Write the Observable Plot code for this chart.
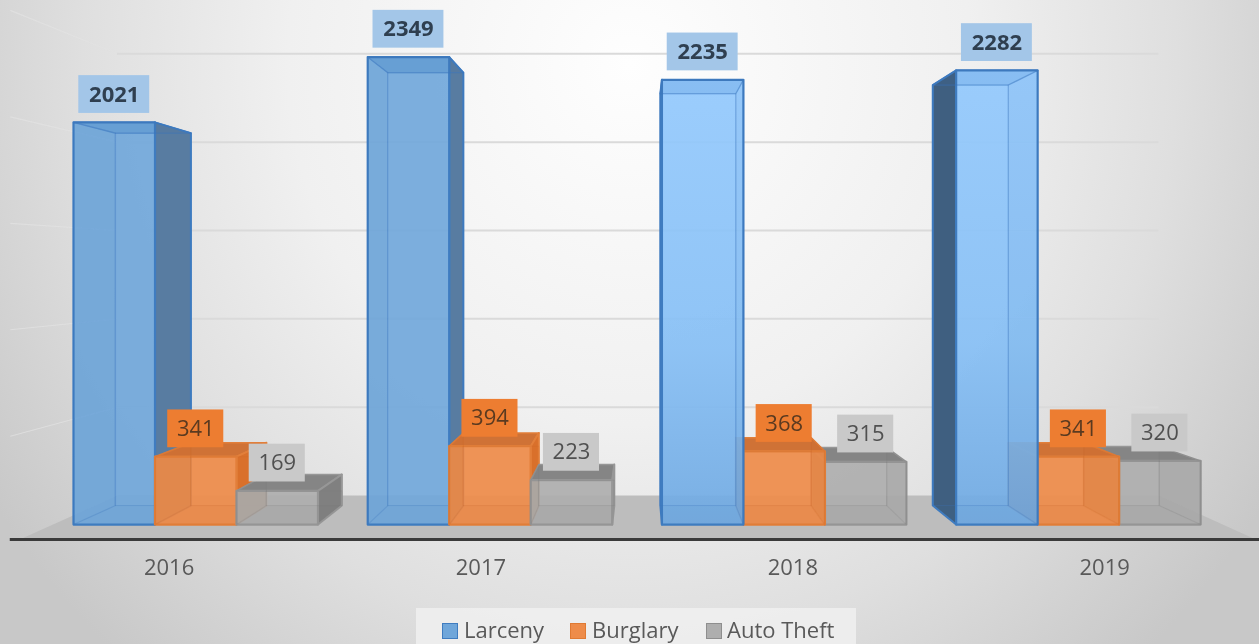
<!DOCTYPE html>
<html><head><meta charset="utf-8">
<script src="https://cdn.jsdelivr.net/npm/d3@7"></script>
<script src="https://cdn.jsdelivr.net/npm/@observablehq/plot@0.6"></script>
<style>
html,body{margin:0;padding:0;width:1259px;height:644px;overflow:hidden}
body{background:radial-gradient(ellipse 760px 800px at 50% 10%,#fefefe 0%,#f0f0f0 45%,#dfdfdf 72%,#c8c8c8 100%);font-family:"Open Sans",sans-serif}
#chart svg{display:block;filter:blur(.6px)}
#legend{position:relative;margin-left:416px;margin-top:2px;width:440px;height:36px;background:rgba(240,240,240,.85);color:#595959;font-size:22px;filter:blur(.4px)}
#legend span{position:absolute;white-space:nowrap;top:6px}
#legend i{position:absolute;top:15px;width:14px;height:14px;border:1.5px solid}
</style></head><body>
<div id="chart"></div><div id="legend"></div>
<script>
const years = ["2016","2017","2018","2019"];
const seriesNames = ["Larceny","Burglary","Auto Theft"];
const larceny = [2021,2349,2235,2282];
const burglary = [341,394,368,341];
const autoTheft = [169,223,315,320];
const gridValues = [500,1000,1500,2000,2500];
const seriesValues = [larceny,burglary,autoTheft];

// 3-D box geometry expressed in scale units: x in bar widths, y in chart values
const groupStep = 3.61, vanishX = 6.957;
const boxK = 0.926, boxLift = 95.5, wallK = 0.888, wallLift = 145.7;
const project = (x,k)=>vanishX+k*(x-vanishX);
const floorValue = -75, frontK = 1.054, tickK = 1.06;

const looks = [
 {front:"rgba(111,166,218,.9)",solid:"#6fa6da",top:"#5f96cf",over:"rgba(60,110,170,.1)",side:"#587ca1",inner:"rgba(60,110,170,.05)",line:"rgba(60,120,190,.28)",edge:"#3f7cc0",box:"#a3c6e8",text:"#2f3f50"},
 {front:"rgba(238,140,74,.93)",solid:"#ee8c4a",top:"#cf7236",over:"rgba(190,90,30,.08)",side:"#d9702b",inner:"rgba(200,95,30,.07)",line:"rgba(200,100,40,.18)",edge:"#e27f3a",box:"#ed7d31",text:"#5a3a20"},
 {front:"rgba(174,174,174,.92)",solid:"#aeaeae",top:"#858585",over:"rgba(110,110,110,.08)",side:"#808080",inner:"rgba(120,120,120,.07)",line:"rgba(120,120,120,.2)",edge:"#979797",box:"#c9c9c9",text:"#505050"}
];
const lightFront = "url(#lightBlue)";

const bars = years.flatMap((year,i)=>seriesNames.map((name,j)=>({
  year,i,j,value:seriesValues[j][i],x0:i*groupStep+j,x1:i*groupStep+j+1
}))).sort((a,b)=>Math.abs(b.x0+.5-vanishX)-Math.abs(a.x0+.5-vanishX));

const faces=[];
let faceId=0;
function addFace(pts,fill,stroke,sw){
  const id=faceId++;
  pts.forEach(p=>faces.push({id,x:p[0],y:p[1],fill,stroke,sw}));
}
for(const b of bars){
  const L=looks[b.j], light=b.j===0&&b.i>=2;
  const bx0=project(b.x0,boxK),bx1=project(b.x1,boxK),by=boxLift+boxK*b.value,fy=b.value;
  const sideDark=light?"#3f5f80":L.side;
  const leftOut=bx0<b.x0,rightOut=bx1>b.x1;
  const leftFace=[[b.x0,0],[bx0,boxLift],[bx0,by],[b.x0,fy]],rightFace=[[b.x1,0],[bx1,boxLift],[bx1,by],[b.x1,fy]];
  const topFace=[[b.x0,fy],[b.x1,fy],[bx1,by],[bx0,by]];
  // solid outer parts first
  addFace(topFace,light?"#7db6ec":L.top,L.edge,1.5);
  if(leftOut)addFace(leftFace,sideDark,L.edge,2);
  if(rightOut)addFace(rightFace,sideDark,L.edge,2);
  // translucent front, then the structure that shows through it
  addFace([[b.x0,0],[b.x1,0],[b.x1,fy],[b.x0,fy]],light?lightFront:L.front,L.edge,2.2);
  addFace([[b.x0,0],[b.x1,0],[bx1,boxLift],[bx0,boxLift]],L.inner,"none",0);
  if(!leftOut)addFace(leftFace,L.inner,L.line,1.2);
  if(!rightOut)addFace(rightFace,L.inner,L.line,1.2);
  if(by<fy)addFace(topFace,L.over,L.line,1.2);
  addFace([[bx0,boxLift],[bx1,boxLift],[bx1,Math.min(by,fy)],[bx0,Math.min(by,fy)]],"none",L.line,1);
}

const wl=project(-.27,wallK),wr=project(14.12,wallK),fl=project(-.27,frontK),fr=project(14.12,frontK);
const floorFace=[{x:fl,y:floorValue},{x:fr,y:floorValue},{x:wr,y:wallLift},{x:wl,y:wallLift}];
const gridRows=gridValues.map(v=>({v,y:wallLift+wallK*v}));
const sideK=1.07;
const sideGrid=gridValues.map(v=>{
  const wy=wallLift+wallK*v;
  return {x1:wl,y1:wy,x2:project(-.27,sideK),y2:wy+(v-wy)*(sideK-wallK)/(1-wallK)};
});
const labels=bars.map(b=>({...b,xc:b.x0+.5,yc:b.value+140,hw:b.j===0?.435:.344,L:looks[b.j]}));
const yearTicks=years.map((y,i)=>project(i*groupStep+1.5,tickK));

const chart=Plot.plot({
  width:1259,height:606,marginTop:0,marginBottom:67,marginLeft:0,marginRight:0,
  style:{background:"transparent",fontFamily:"'Open Sans',sans-serif",overflow:"visible"},
  x:{type:"linear",domain:[-73/81.5,(1259-73)/81.5],range:[0,1259]},
  y:{domain:[floorValue,(539-0)/.199+floorValue],range:[539,0],axis:null},
  color:{type:"identity"},
  marks:[
    ()=>{
      const d=d3.create("svg:defs"),g=d.append("linearGradient").attr("id","lightBlue").attr("x1",0).attr("x2",0).attr("y1",0).attr("y2",1);
      g.append("stop").attr("offset","0%").attr("stop-color","#93c9fd").attr("stop-opacity",.92);
      g.append("stop").attr("offset","60%").attr("stop-color","#86bff5").attr("stop-opacity",.92);
      g.append("stop").attr("offset","100%").attr("stop-color","#6fa9e2").attr("stop-opacity",.92);
      return d.node();
    },
    Plot.link(sideGrid,{x1:"x1",y1:"y1",x2:"x2",y2:"y2",stroke:"#e2e2e2",strokeWidth:1.2,strokeOpacity:.7}),
    Plot.ruleY(gridRows,{y:"y",x1:wl,x2:wr,stroke:"#dadada",strokeWidth:2}),
    Plot.line(floorFace,{x:"x",y:"y",fill:"#bdbdbd",stroke:"none",curve:"linear-closed"}),
    Plot.ruleY([floorValue],{x1:project(-.27,1.07),x2:20,stroke:"#3a3a3a",strokeWidth:3}),
    Plot.line(faces,{x:"x",y:"y",z:"id",fill:"fill",stroke:"stroke",strokeWidth:"sw",curve:"linear-closed"}),
    Plot.rect(labels,{x1:d=>d.xc-d.hw,x2:d=>d.xc+d.hw,y1:d=>d.yc-95,y2:d=>d.yc+95,fill:d=>d.L.box}),
    Plot.text(labels.filter(d=>d.j===0),{x:"xc",y:"yc",text:d=>String(d.value),fill:d=>d.L.text,fontSize:22,fontWeight:"bold"}),
    Plot.text(labels.filter(d=>d.j!==0),{x:"xc",y:"yc",text:d=>String(d.value),fill:d=>d.L.text,fontSize:22}),
    Plot.axisX(yearTicks,{tickSize:0,tickPadding:20,tickFormat:(d,i)=>years[i],fontSize:22,color:"#595959",fill:"#595959",label:null})
  ]
});
document.getElementById("chart").append(chart);

const legend=document.getElementById("legend");
const legendX=[[26,48],[154,176],[290,311]],legendCol=[["#6fa6da","#3f7cc0"],["#ee8c4a","#e07a33"],["#aeaeae","#8e8e8e"]];
seriesNames.forEach((n,i)=>{
  const sw=document.createElement("i");sw.style.left=legendX[i][0]+"px";sw.style.background=legendCol[i][0];sw.style.borderColor=legendCol[i][1];legend.append(sw);
  const t=document.createElement("span");t.textContent=n;t.style.left=legendX[i][1]+"px";legend.append(t);
});
</script></body></html>
